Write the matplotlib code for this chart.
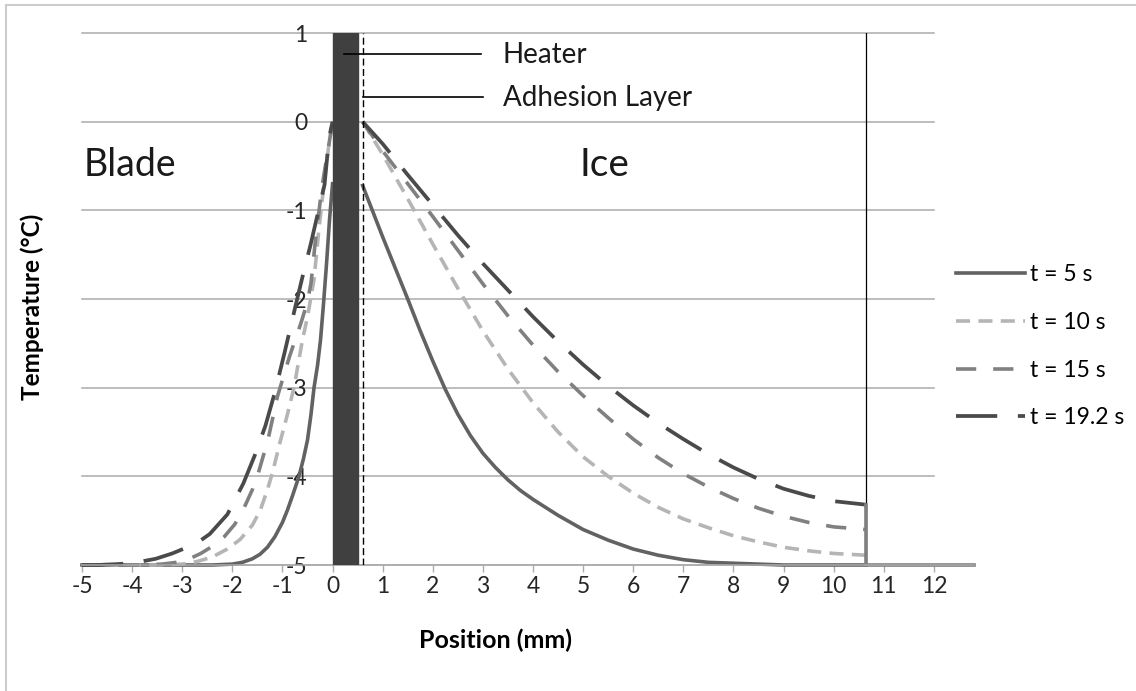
import matplotlib.pyplot as plt
from matplotlib.patches import Rectangle

plt.rcParams['font.family'] = ['Lato', 'DejaVu Sans']

# blade side (left of heater), one position list per series
pos_blade_5 = [-5, -3, -2.4, -2.0, -1.8, -1.6, -1.45, -1.3, -1.15, -1.0, -0.9, -0.8, -0.67,
               -0.58, -0.5, -0.43, -0.37, -0.3, -0.24, -0.18, -0.12, -0.06, 0]
temp_blade_5 = [-5, -5, -5.0, -4.99, -4.97, -4.93, -4.88, -4.8, -4.68, -4.52, -4.38, -4.22, -4.0,
                -3.8, -3.59, -3.3, -3.0, -2.75, -2.46, -2.05, -1.6, -1.1, -0.7]
pos_blade_10 = [-5, -3.5, -3.0, -2.7, -2.4, -2.1, -1.84, -1.6, -1.44, -1.3, -1.2, -1.05, -0.9,
                -0.77, -0.6, -0.5, -0.37, -0.27, -0.2, -0.14, -0.07, 0]
temp_blade_10 = [-5, -5.0, -4.99, -4.96, -4.91, -4.82, -4.71, -4.55, -4.38, -4.15, -3.96, -3.62, -3.3,
                 -3.0, -2.46, -2.2, -1.78, -1.2, -0.85, -0.54, -0.25, 0.0]
pos_blade_15 = [-5, -3.8, -3.4, -2.97, -2.63, -2.4, -2.16, -1.95, -1.77, -1.6, -1.47, -1.29,
                -1.1, -0.86, -0.63, -0.5, -0.43, -0.34, -0.21, -0.1, 0]
temp_blade_15 = [-5, -5.0, -4.99, -4.96, -4.87, -4.79, -4.68, -4.54, -4.36, -4.15, -3.94, -3.59,
                 -3.1, -2.65, -2.27, -2.03, -1.82, -1.33, -0.73, -0.35, 0.0]
pos_blade_19 = [-5, -4.7, -4.3, -4.0, -3.53, -3.2, -2.9, -2.65, -2.45, -2.1, -1.78, -1.55, -1.34,
                -1.15, -0.96, -0.74, -0.6, -0.44, -0.3, -0.16, -0.07, 0]
temp_blade_19 = [-5, -5.0, -4.99, -4.98, -4.93, -4.87, -4.8, -4.73, -4.65, -4.43, -4.08, -3.76, -3.43,
                 -3.05, -2.61, -2.08, -1.75, -1.39, -1.05, -0.71, -0.18, 0.0]

# ice side (right of adhesion layer)
pos_ice_5 = [0.6, 0.8, 1.0, 1.25, 1.5, 1.75, 2.0, 2.25, 2.5, 2.75, 3.0, 3.25, 3.5, 3.75, 4.0,
             4.5, 5.0, 5.5, 6.0, 6.5, 7.0, 7.5, 8.0, 9.0, 10.0, 10.65]
temp_ice_5 = [-0.72, -1.01, -1.3, -1.65, -2.0, -2.36, -2.7, -3.02, -3.3, -3.54, -3.74, -3.9, -4.04,
              -4.16, -4.26, -4.44, -4.6, -4.72, -4.82, -4.89, -4.94, -4.97, -4.98, -5.0, -5.0, -5.0]
pos_ice = [0.6, 1.0, 1.5, 2.0, 2.5, 3.0, 3.5, 4.0, 4.5, 5.0, 5.5, 6.0, 6.5, 7.0, 7.5, 8.0, 8.5,
           9.0, 9.5, 10.0, 10.65]
temp_ice_10 = [0.0, -0.37, -0.87, -1.38, -1.88, -2.36, -2.79, -3.17, -3.5, -3.78, -4.0, -4.19, -4.35,
               -4.48, -4.58, -4.67, -4.74, -4.8, -4.84, -4.87, -4.89]
temp_ice_15 = [0.0, -0.33, -0.7, -1.07, -1.45, -1.83, -2.19, -2.52, -2.82, -3.09, -3.34, -3.58, -3.79,
               -3.97, -4.12, -4.25, -4.36, -4.45, -4.52, -4.57, -4.6]
temp_ice_19 = [0.0, -0.25, -0.6, -0.94, -1.28, -1.6, -1.9, -2.2, -2.48, -2.74, -2.98, -3.2, -3.4,
               -3.58, -3.75, -3.9, -4.03, -4.14, -4.22, -4.28, -4.32]

labels = ['t = 5 s', 't = 10 s', 't = 15 s', 't = 19.2 s']
colors = ['#626262', '#b5b5b5', '#808080', '#4a4a4a']
styles = ['-', (0, (3.9, 2.3)), (0, (5.6, 4.7)), (0, (11, 5.5))]
widths = [2.6, 2.6, 2.6, 2.7]

blade = [(pos_blade_5, temp_blade_5), (pos_blade_10, temp_blade_10),
         (pos_blade_15, temp_blade_15), (pos_blade_19, temp_blade_19)]
ice = [(pos_ice_5, temp_ice_5), (pos_ice, temp_ice_10),
       (pos_ice, temp_ice_15), (pos_ice, temp_ice_19)]

heater = (0, 0.5)
adhesion_x = 0.6
ice_end = 10.65
boundary_x = [10.65, 10.65, 12.8]
boundary_y = [-4.32, -5, -5]

xticks = list(range(-5, 13))
yticks = [1, 0, -1, -2, -3, -4, -5]

fig = plt.figure(figsize=(11.36, 6.91), dpi=100)
ax = fig.add_axes([82 / 1136, 1 - 565 / 691, 892 / 1136, 532 / 691])
ax.set_xlim(-5, 12.8)
ax.set_ylim(-5, 1)

for y in yticks:
    ax.plot([-5, 12], [y, y], color='#ababab', lw=1.1, zorder=0.5, clip_on=False)

ax.axvspan(heater[0], heater[1], color='#404040', zorder=3)
ax.axvline(adhesion_x, color='black', lw=1, ls=(0, (5, 2.5)), zorder=3)
ax.plot([ice_end, ice_end], [-5, 1], color='black', lw=0.9, zorder=2)

for (bx, by), (ix, iy), lab, c, ls, lw in zip(blade, ice, labels, colors, styles, widths):
    ax.plot(bx, by, color=c, ls=ls, lw=lw, zorder=2, clip_on=False)
    ax.plot(ix, iy, color=c, ls=ls, lw=lw, label=lab, zorder=2, clip_on=False)

ax.plot(boundary_x, boundary_y, color='#7f7f7f', lw=2.6, zorder=2, clip_on=False)

ax.plot([0.22, 2.97], [0.76, 0.76], color='black', lw=1.2, zorder=4)
ax.plot([0.61, 3.0], [0.28, 0.28], color='black', lw=1.2, zorder=4)
ax.text(3.39, 0.755, 'Heater', fontsize=20, va='center', ha='left', color='#1a1a1a')
ax.text(3.41, 0.265, 'Adhesion Layer', fontsize=20, va='center', ha='left', color='#1a1a1a')
ax.text(-4.97, -0.485, 'Blade', fontsize=27, va='center', ha='left', color='#1a1a1a')
ax.text(5.42, -0.485, 'Ice', fontsize=28, va='center', ha='center', color='#1a1a1a')

for s in ['top', 'right']:
    ax.spines[s].set_visible(False)
ax.spines['left'].set_position(('data', 0))
ax.spines['left'].set_visible(False)
ax.spines['bottom'].set_color('#ababab')
ax.spines['bottom'].set_linewidth(1.1)

ax.set_xticks(xticks)
ax.set_xticklabels([str(v) for v in xticks])
ax.set_yticks(yticks)
ax.set_yticklabels([str(v) for v in yticks])
ax.tick_params(axis='x', direction='out', length=5, width=1, color='#ababab',
               labelsize=16.5, labelcolor='#262626', pad=3)
ax.tick_params(axis='y', length=0, labelsize=16.5, labelcolor='#262626', pad=18)

fig.text(496 / 1136, 1 - 640 / 691, 'Position (mm)', fontsize=18, fontweight='bold',
         ha='center', va='center')
fig.text(32 / 1136, 1 - 307 / 691, 'Temperature (°C)', fontsize=17.5, fontweight='bold',
         ha='center', va='center', rotation=90)

ax.legend(loc='upper left', bbox_to_anchor=(956 / 1136, 1 - 264 / 691),
          bbox_transform=fig.transFigure, frameon=False, fontsize=16.5,
          handlelength=3.0, handletextpad=0.22, labelspacing=1.17,
          borderpad=0, borderaxespad=0)

fig.add_artist(Rectangle((6 / 1136, -0.1), 1.2, 1.1 - 5 / 691, transform=fig.transFigure,
                         fill=False, edgecolor='#cccccc', lw=1.5))

fig.savefig('out.png', dpi=100)
